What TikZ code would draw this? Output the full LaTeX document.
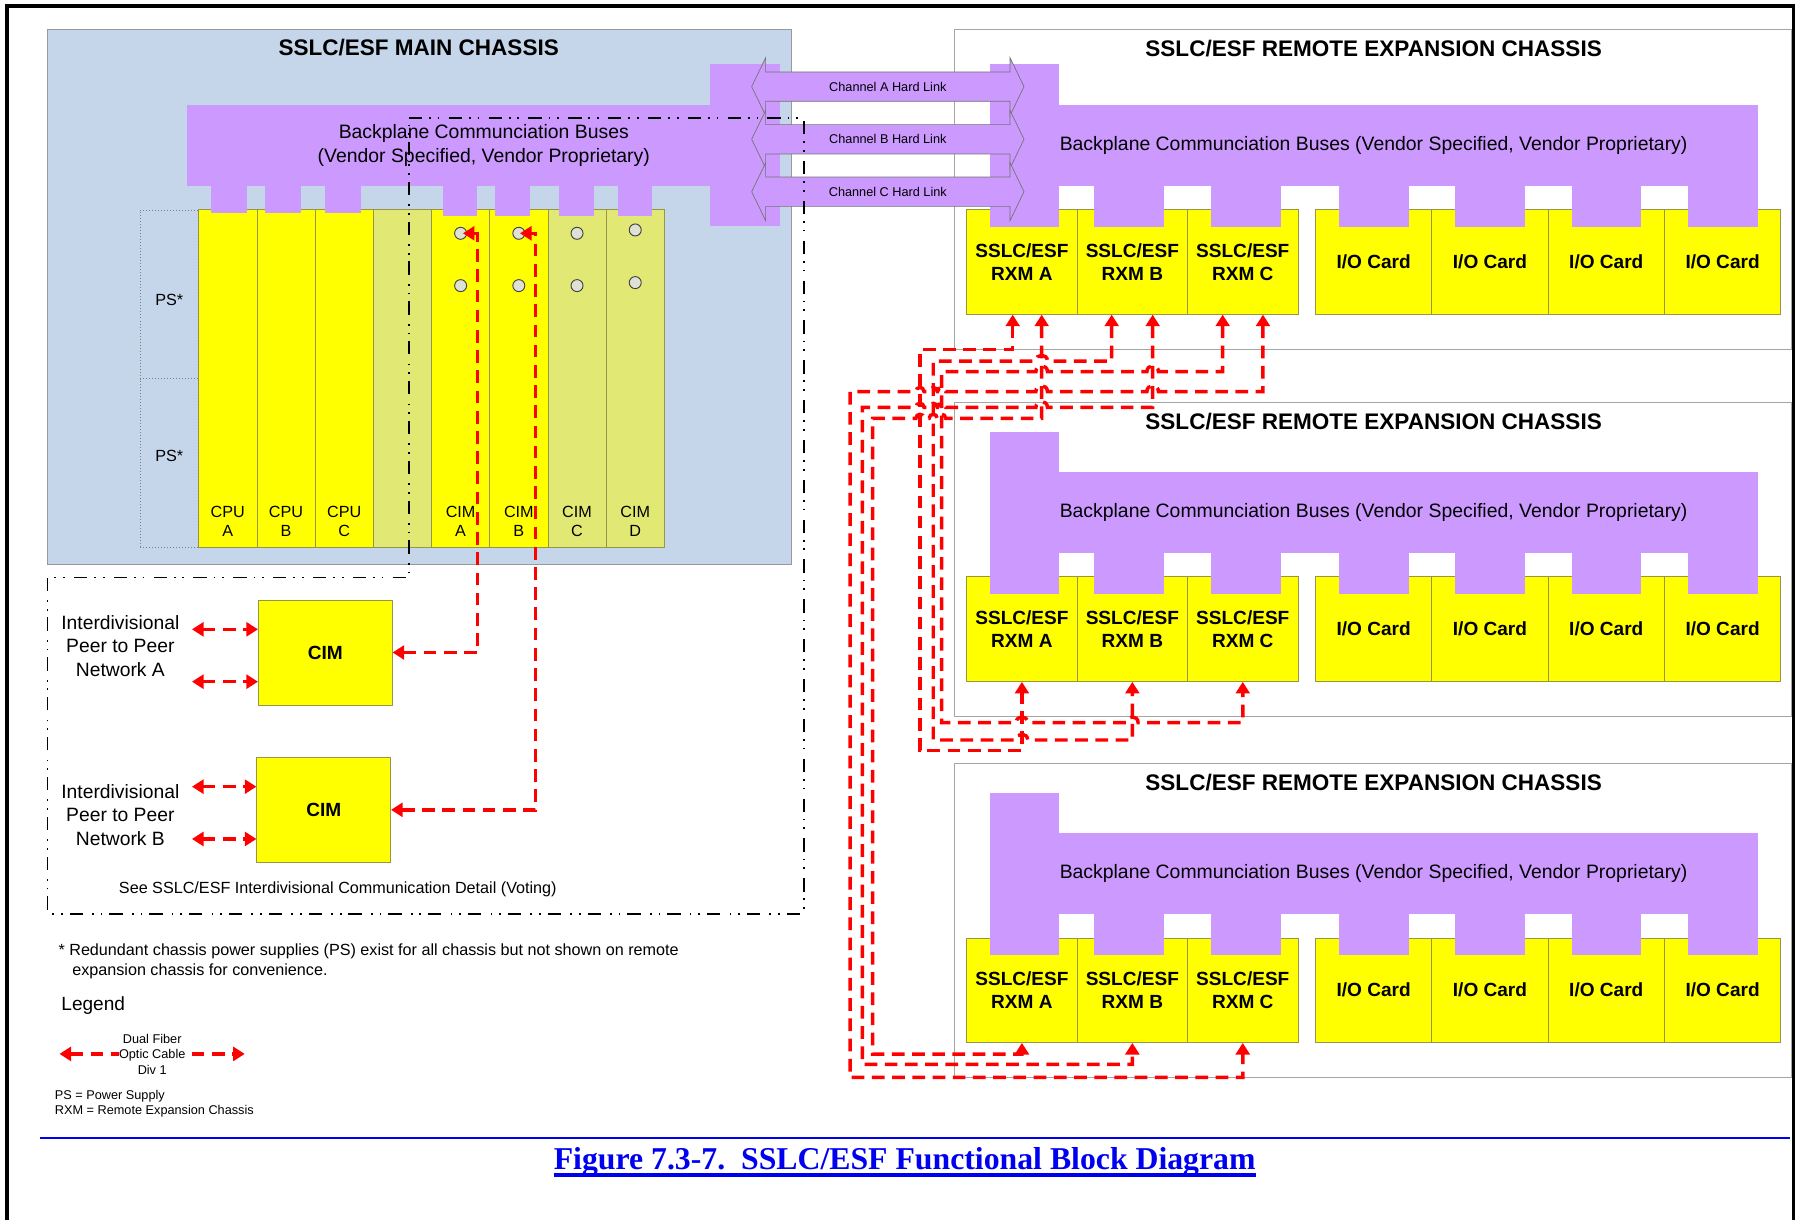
\documentclass[tikz,border=0pt]{standalone}
\usepackage{fontspec}
\setmainfont{Liberation Sans}
\newfontfamily\figserif{Liberation Serif}
\usetikzlibrary{arrows.meta}
\definecolor{chassisblue}{RGB}{198,214,234}
\definecolor{buspurple}{RGB}{204,153,255}
\definecolor{cardyellow}{RGB}{255,255,0}
\definecolor{cardkhaki}{RGB}{225,232,115}
\definecolor{cardedge}{RGB}{150,150,70}
\definecolor{framegray}{RGB}{165,165,165}
\definecolor{holegray}{RGB}{222,225,212}
\definecolor{cablered}{RGB}{255,0,0}
\definecolor{titleblue}{RGB}{0,0,240}
\begin{document}
\begin{tikzpicture}[x=1pt,y=-1pt,
  every node/.style={inner sep=0pt},
  slot/.style={draw=cardedge,line width=0.6pt,minimum width=50.4pt,minimum height=292.4pt},
  card/.style={draw=cardedge,line width=0.6pt,fill=cardyellow,minimum width=#1,minimum height=90.7pt,font=\fontsize{16.5}{20.2}\selectfont\bfseries,align=center},
  cimbox/.style={draw=cardedge,line width=0.6pt,fill=cardyellow,minimum width=116pt,minimum height=90.9pt,font=\fontsize{16.5}{20}\selectfont\bfseries},
  hole/.style={circle,draw=black!75,fill=holegray,line width=0.8pt,minimum size=10.4pt},
  cable/.style={draw=cablered,line width=3pt,dash pattern=on 11pt off 6.5pt,>={Triangle[length=10pt,width=12pt]},<->},
  bound/.style={draw=black,line width=1.5pt,dash pattern=on 11.5pt off 6pt on 1.5pt off 6pt on 1.5pt off 8pt},
  chanlink/.style={fill=buspurple,draw=black!55,line width=0.6pt},
  lbl/.style={font=\fontsize{14}{16.6}\selectfont,align=center},
  peer/.style={font=\fontsize{16.7}{20.2}\selectfont,align=center},
  chtitle/.style={font=\fontsize{19.5}{22}\selectfont\bfseries},
  bustext/.style={font=\fontsize{16.8}{20.8}\selectfont,align=center},
  psbox/.style={draw=black!50,dotted,line width=0.6pt,minimum width=50.6pt,minimum height=146.2pt}
]
\useasboundingbox (0,0) rectangle (1568,1056);

% ---------------- main chassis ----------------
\draw[draw=black!40,line width=0.8pt,fill=chassisblue] (41.2,25.6) rectangle (685,489);
\node[chtitle] (maintitle) at (362.5,41.6) {SSLC/ESF MAIN CHASSIS};

\foreach \i/\cx/\col in {1/197.2/cardyellow,2/247.6/cardyellow,3/298/cardyellow,4/348.4/cardkhaki,5/398.8/cardyellow,6/449.2/cardyellow,7/499.6/cardkhaki,8/550/cardkhaki}
  \node[slot,fill=\col] (slot\i) at (\cx,327.8) {};

\node[psbox] (ps1) at (146.7,254.8) {};
\node[psbox] (ps2) at (146.7,401) {};
\node[lbl] (ps1l) at (146.5,259.5) {PS*};
\node[lbl] (ps2l) at (146.5,394.6) {PS*};

\fill[buspurple] (162,91.3) rectangle (615.5,161);
\fill[buspurple] (615,55.4) rectangle (675.6,196);
\foreach \xa/\xb/\yc in {182.5/213.7/184,229.6/260.4/184,281.7/312.5/184,383.5/413.4/186.8,428.8/458.7/186.8,484/514/186.8,534.8/564.7/186.8}
  \fill[buspurple] (\xa,160.5) rectangle (\xb,\yc);
\node[bustext] (mainbus) at (418.9,125.7) {Backplane Communciation Buses\\(Vendor Specified, Vendor Proprietary)};

\node[lbl] (l1) at (197.2,451.3) {CPU\\A};
\node[lbl] (l2) at (247.6,451.3) {CPU\\B};
\node[lbl] (l3) at (298,451.3) {CPU\\C};
\node[lbl] (l5) at (398.8,451.3) {CIM\\A};
\node[lbl] (l6) at (449.2,451.3) {CIM\\B};
\node[lbl] (l7) at (499.6,451.3) {CIM\\C};
\node[lbl] (l8) at (550,451.3) {CIM\\D};

\node[hole] (hA1) at (398.8,202) {};
\node[hole] (hA2) at (398.8,247.3) {};
\node[hole] (hB1) at (449.2,202) {};
\node[hole] (hB2) at (449.2,247.3) {};
\node[hole] (hC1) at (499.6,202) {};
\node[hole] (hC2) at (499.6,247.3) {};
\node[hole] (hD1) at (550,199.1) {};
\node[hole] (hD2) at (550,244.7) {};

% ---------------- CIM detail ----------------
\node[cimbox] (cimA) at (281.65,564.95) {CIM};
\node[cimbox] (cimB) at (280.3,701.15) {CIM};
\node[peer] (netA) at (104.2,559.3) {Interdivisional\\Peer to Peer\\Network A};
\node[peer] (netB) at (104.2,705.6) {Interdivisional\\Peer to Peer\\Network B};
\coordinate (pA1) at (166.2,544.9);
\coordinate (pA2) at (166.2,590.2);
\coordinate (pB1) at (166.2,681.1);
\coordinate (pB2) at (166.2,726.4);
\draw[cable] (pA1) -- (cimA.west |- pA1);
\draw[cable] (pA2) -- (cimA.west |- pA2);
\draw[cable] (pB1) -- (cimB.west |- pB1);
\draw[cable] (pB2) -- (cimB.west |- pB2);
\node[lbl] (seenote) at (292.5,770) {See SSLC/ESF Interdivisional Communication Detail (Voting)};

\draw[cable] (cimA.east) -- (413.6,564.95) -- (413.6,202) -- ([xshift=2pt]hA1.center);
\draw[cable] (cimB.east) -- (463.8,701.15) -- (463.8,202) -- ([xshift=1pt]hB1.center);

% ---------------- remote chassis ----------------
\foreach \kk/\cTop/\cBot/\yTi/\yTl/\yBt/\yBb/\yTe/\yCd in
  {1/25.4/302.4/42/55.4/91.3/161.3/196.5/226.8,
   2/348.3/620/365/373.7/408.7/479/514/544.75,
   3/660.9/932.8/677.5/686.3/721.3/791.6/826.6/857.35}{
  \draw[draw=framegray,line width=0.9pt,fill=white] (826.3,\cTop) rectangle (1551.5,\cBot);
  \node[card=95.6pt] (c\kk A) at (884.8,\yCd) {SSLC/ESF\\RXM A};
  \node[card=95.6pt] (c\kk B) at (980.4,\yCd) {SSLC/ESF\\RXM B};
  \node[card=95.6pt] (c\kk C) at (1076,\yCd) {SSLC/ESF\\RXM C};
  \node[card=100.7pt] (io\kk a) at (1189.35,\yCd) {I/O Card};
  \node[card=100.7pt] (io\kk b) at (1290.05,\yCd) {I/O Card};
  \node[card=100.7pt] (io\kk c) at (1390.75,\yCd) {I/O Card};
  \node[card=100.7pt] (io\kk d) at (1491.45,\yCd) {I/O Card};
  \fill[buspurple] (857,\yTl) rectangle (917.2,\yTe);
  \fill[buspurple] (857,\yBt) rectangle (1521.7,\yBb);
  \foreach \xa/\xb in {947.5/1007.8,1048.5/1108.8,1159.2/1219.7,1259.8/1320.2,1360.7/1420.8,1461.5/1521.7}
    \fill[buspurple] (\xa,{\yBb-0.5}) rectangle (\xb,\yTe);
  \node[chtitle] (rt\kk) at (1189.3,\yTi) {SSLC/ESF REMOTE EXPANSION CHASSIS};
  \node[bustext] (rb\kk) at (1189.3,{(\yBt+\yBb)/2}) {Backplane Communciation Buses (Vendor Specified, Vendor Proprietary)};
}

% ---------------- channel hard links ----------------
\foreach \ch/\cy in {A/75,B/120.6,C/166}{
  \draw[chanlink] (650.8,\cy) -- (662.9,{\cy-25}) -- (662.9,{\cy-12.7}) -- (874.5,{\cy-12.7}) -- (874.5,{\cy-25})
     -- (886.6,\cy) -- (874.5,{\cy+25}) -- (874.5,{\cy+12.7}) -- (662.9,{\cy+12.7}) -- (662.9,{\cy+25}) -- cycle;
  \node[font=\fontsize{11}{13}\selectfont] (link\ch) at (768.7,\cy) {Channel \ch{} Hard Link};
}

% ---------------- fibre cables between chassis ----------------
% A1 -> chassis 2 A
\draw[cable] ([xshift=-8pt]c1A.south) -- (876.8,302.5) -- (796.5,302.5) -- (796.5,650) -- (884.8,650) -- (c2A.south);
% B1 -> chassis 2 B
\draw[cable] ([xshift=-17.9pt]c1B.south) -- (962.5,312.6) -- (906.9,312.6) .. controls (906.9,305.95) and (896.9,305.95) .. (896.9,312.6)
  -- (808,312.6) -- (808,640.7) -- (879.8,640.7) .. controls (879.8,634.05) and (889.8,634.05) .. (889.8,640.7) -- (980.4,640.7) -- (c2B.south);
% C1 -> chassis 2 C
\draw[cable] ([xshift=-17.4pt]c1C.south) -- (1058.6,321.8) -- (1003,321.8) .. controls (1003,315.15) and (993,315.15) .. (993,321.8)
  -- (906.9,321.8) .. controls (906.9,315.15) and (896.9,315.15) .. (896.9,321.8) -- (815.3,321.8) -- (815.3,625.7)
  -- (879.8,625.7) .. controls (879.8,619.05) and (889.8,619.05) .. (889.8,625.7)
  -- (975.4,625.7) .. controls (975.4,619.05) and (985.4,619.05) .. (985.4,625.7) -- (1076,625.7) -- (c2C.south);
% A2 -> chassis 3 A
\draw[cable] ([xshift=17.1pt]c1A.south) -- (901.9,362.2)
  -- (818.8,362.2) .. controls (818.8,357.55) and (811.8,357.55) .. (811.8,362.2)
  -- (811.5,362.2) .. controls (811.5,357.55) and (804.5,357.55) .. (804.5,362.2)
  -- (800,362.2) .. controls (800,357.55) and (793,357.55) .. (793,362.2)
  -- (755.6,362.2) -- (755.6,912.6) -- (884.8,912.6) -- (c3A.south);
% B2 -> chassis 3 B
\draw[cable] ([xshift=17.6pt]c1B.south) -- (998,352.7)
  -- (906.9,352.7) .. controls (906.9,346.05) and (896.9,346.05) .. (896.9,352.7)
  -- (818.8,352.7) .. controls (818.8,348.05) and (811.8,348.05) .. (811.8,352.7)
  -- (811.5,352.7) .. controls (811.5,348.05) and (804.5,348.05) .. (804.5,352.7)
  -- (800,352.7) .. controls (800,348.05) and (793,348.05) .. (793,352.7)
  -- (746.6,352.7) -- (746.6,921.5) -- (980.4,921.5) -- (c3B.south);
% C2 -> chassis 3 C
\draw[cable] ([xshift=17.5pt]c1C.south) -- (1093.5,339)
  -- (1003,339) .. controls (1003,332.35) and (993,332.35) .. (993,339)
  -- (906.9,339) .. controls (906.9,332.35) and (896.9,332.35) .. (896.9,339)
  -- (818.8,339) .. controls (818.8,334.35) and (811.8,334.35) .. (811.8,339)
  -- (811.5,339) .. controls (811.5,334.35) and (804.5,334.35) .. (804.5,339)
  -- (800,339) .. controls (800,334.35) and (793,334.35) .. (793,339)
  -- (736,339) -- (736,932.8) -- (1076,932.8) -- (c3C.south);

% ---------------- dash-dot boundary ----------------
\draw[bound] (354,101.9) -- (696,101.9) -- (696,791.6) -- (41.2,791.6) -- (41.2,499.9) -- (354,499.9) -- cycle;

% ---------------- notes and legend ----------------
\node[font=\fontsize{14}{16.6}\selectfont,anchor=west] (note1) at (50.5,823.4) {* Redundant chassis power supplies (PS) exist for all chassis but not shown on remote};
\node[font=\fontsize{14}{16.6}\selectfont,anchor=west] (note2) at (62.4,841) {expansion chassis for convenience.};
\node[font=\fontsize{16.5}{19}\selectfont,anchor=west] (legend) at (53,871) {Legend};
\coordinate (lgL) at (51.5,912.5);
\coordinate (lgR) at (211.9,912.5);
\draw[cable] (lgL) -- (lgR);
\node[font=\fontsize{11}{13.4}\selectfont,align=center,fill=white] (lgtext) at (131.8,912.5) {Dual Fiber\\Optic Cable\\Div 1};
\node[font=\fontsize{11}{13}\selectfont,anchor=west] (abbr1) at (47.4,949) {PS = Power Supply};
\node[font=\fontsize{11}{13}\selectfont,anchor=west] (abbr2) at (47.4,962.5) {RXM = Remote Expansion Chassis};

% ---------------- caption ----------------
\draw[titleblue,line width=2pt] (35,985) -- (1550,985);
\node[font=\figserif\bfseries\fontsize{27.5}{30}\selectfont,text=titleblue,anchor=base] (caption) at (783.3,1013) {Figure 7.3-7.\ \ SSLC/ESF Functional Block Diagram};
\draw[titleblue,line width=2.8pt] ([yshift=-4.3pt]caption.base west) -- ([yshift=-4.3pt]caption.base east);

% ---------------- page frame (bottom edge lies outside the picture) ----------------
\draw[line width=3pt] (6,1062) -- (6,5) -- (1553,5) -- (1553,1062);
\end{tikzpicture}
\end{document}
